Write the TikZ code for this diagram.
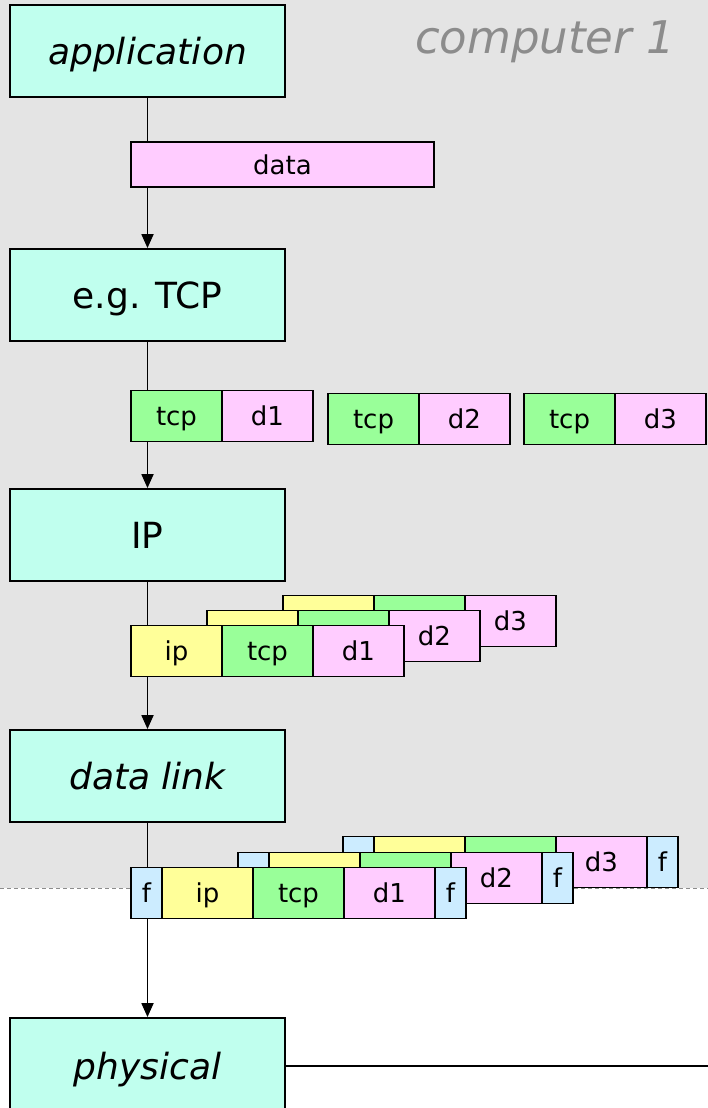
\documentclass[tikz,border=0pt]{standalone}
\usepackage{fontspec}
\setmainfont{DejaVu Sans}
\usetikzlibrary{positioning,arrows.meta,calc}
\definecolor{layeraqua}{RGB}{192,255,238}
\definecolor{bggray}{RGB}{228,228,228}
\definecolor{tcpgreen}{RGB}{153,255,153}
\definecolor{datapink}{RGB}{255,204,255}
\definecolor{ipyellow}{RGB}{255,255,153}
\definecolor{frameblue}{RGB}{204,236,255}
\definecolor{labelgray}{RGB}{140,140,140}
\tikzset{
    layer/.style={
        rectangle,
        draw=black,
        line width=1.8pt,
        fill=layeraqua,
        minimum width=275pt,
        minimum height=92pt,
        inner sep=0pt,
        text height=27pt,
        text depth=0pt,
        font=\fontsize{36}{42}\selectfont
    },
    cell/.style={
        rectangle,
        draw=black,
        line width=1.8pt,
        minimum width=91pt,
        minimum height=51pt,
        inner sep=0pt,
        outer sep=0pt,
        text height=19.5pt,
        text depth=0pt,
        font=\fontsize{26}{30}\selectfont
    },
    fcell/.style={
        cell,
        minimum width=31pt,
        fill=frameblue
    },
    flow/.style={
        -{Triangle[length=14pt,width=12pt]},
        line width=1.8pt
    },
    link/.style={
        line width=1.8pt
    }
}

\begin{document}
\begin{tikzpicture}[x=1pt, y=-1pt]
\clip (0,0) rectangle (708,1108);
\useasboundingbox (0,0) rectangle (708,1108);

% computer 1 area
\fill[bggray] (0,0) rectangle (708,888);
\draw[labelgray, dash pattern=on 4pt off 3pt, line width=1pt] (0,888) -- (708,888);
\node[font=\fontsize{45}{52}\selectfont\itshape, text=labelgray] (host) at (545,42) {computer 1};

% layers
\node[layer, font=\fontsize{36}{42}\selectfont\itshape] (app) at (147.5,51) {application};
\node[layer] (transport) at (147.5,295) {e.g. TCP};
\node[layer] (network) at (147.5,535) {IP};
\node[layer, font=\fontsize{36}{42}\selectfont\itshape] (datalink) at (147.5,776) {data link};
\node[layer, minimum height=96pt, font=\fontsize{36}{42}\selectfont\itshape] (physical) at (147.5,1066) {physical};
\coordinate (wire) at (708,1066);

% application data
\node[cell, fill=datapink, minimum width=303pt, minimum height=45pt] (data) at (282.5,164.5) {data};

% tcp segments
\node[cell, fill=tcpgreen, anchor=west] (tcpA) at (131,416) {tcp};
\node[cell, fill=datapink, right=0pt of tcpA] (dA) {d1};
\node[cell, fill=tcpgreen, anchor=west] (tcpB) at (328,419) {tcp};
\node[cell, fill=datapink, right=0pt of tcpB] (dB) {d2};
\node[cell, fill=tcpgreen, anchor=west] (tcpC) at (524,419) {tcp};
\node[cell, fill=datapink, right=0pt of tcpC] (dC) {d3};

% ip packets
\node[cell, fill=ipyellow, anchor=west] (ipC) at (283,621) {};
\node[cell, fill=tcpgreen, right=0pt of ipC] (ipCtcp) {};
\node[cell, fill=datapink, right=0pt of ipCtcp] (ipCd) {d3};
\node[cell, fill=ipyellow, anchor=west] (ipB) at (207,636) {};
\node[cell, fill=tcpgreen, right=0pt of ipB] (ipBtcp) {};
\node[cell, fill=datapink, right=0pt of ipBtcp] (ipBd) {d2};
\node[cell, fill=ipyellow, anchor=west] (ipA) at (131,651) {ip};
\node[cell, fill=tcpgreen, right=0pt of ipA] (ipAtcp) {tcp};
\node[cell, fill=datapink, right=0pt of ipAtcp] (ipAd) {d1};

% frames
\node[fcell, anchor=west] (fC) at (343,862) {};
\node[cell, fill=ipyellow, right=0pt of fC] (fCip) {};
\node[cell, fill=tcpgreen, right=0pt of fCip] (fCtcp) {};
\node[cell, fill=datapink, right=0pt of fCtcp] (fCd) {d3};
\node[fcell, right=0pt of fCd] (fCend) {f};
\node[fcell, anchor=west] (fB) at (238,878) {};
\node[cell, fill=ipyellow, right=0pt of fB] (fBip) {};
\node[cell, fill=tcpgreen, right=0pt of fBip] (fBtcp) {};
\node[cell, fill=datapink, right=0pt of fBtcp] (fBd) {d2};
\node[fcell, right=0pt of fBd] (fBend) {f};
\node[fcell, anchor=west] (fA) at (131,893) {f};
\node[cell, fill=ipyellow, right=0pt of fA] (fAip) {ip};
\node[cell, fill=tcpgreen, right=0pt of fAip] (fAtcp) {tcp};
\node[cell, fill=datapink, right=0pt of fAtcp] (fAd) {d1};
\node[fcell, right=0pt of fAd] (fAend) {f};

% connectors
\draw[link] (app.south) -- (app.south |- data.north);
\draw[flow] (app.south |- data.south) -- (transport.north);
\draw[link] (transport.south) -- (transport.south |- tcpA.north);
\draw[flow] (transport.south |- tcpA.south) -- (network.north);
\draw[link] (network.south) -- (network.south |- ipA.north);
\draw[flow] (network.south |- ipA.south) -- (datalink.north);
\draw[link] (datalink.south) -- (datalink.south |- fA.north);
\draw[flow] (datalink.south |- fA.south) -- (physical.north);
\draw[link] (physical.east) -- (wire);
\end{tikzpicture}
\end{document}
